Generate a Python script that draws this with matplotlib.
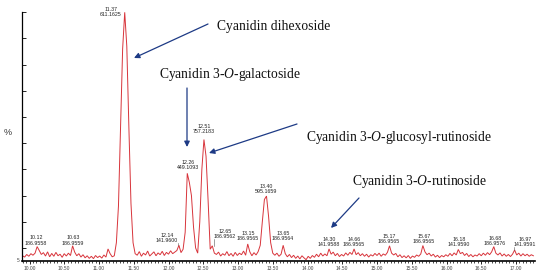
import numpy as np
import matplotlib
matplotlib.use("Agg")
import matplotlib.pyplot as plt
from matplotlib.ticker import MultipleLocator

plt.rcParams["mathtext.fontset"] = "custom"
plt.rcParams["mathtext.rm"] = "Liberation Serif"
plt.rcParams["mathtext.it"] = "Liberation Serif:italic"

# ---------------- data ----------------
t_start = 9.90          # min, first scan
t_step = 0.03           # min between scans
intensity = [  # relative intensity (%), 10 scans per row (0.30 min)
    7.0, 6.5, 7.5, 6.8, 7.8, 7.2, 8.0, 10.5, 9.0, 7.5,      # 9.90
    8.2, 6.9, 8.5, 6.6, 7.9, 6.8, 8.3, 7.0, 7.6, 6.4,       # 10.20
    7.8, 6.9, 8.0, 7.1, 10.8, 8.4, 7.0, 7.8, 6.5, 7.4,      # 10.50
    6.2, 7.0, 6.0, 6.8, 5.9, 7.1, 6.3, 6.9, 6.1, 7.3,       # 10.80
    6.5, 9.6, 7.8, 6.6, 7.0, 12.0, 26.0, 56.0, 86.0, 100.0, # 11.10
    87.0, 56.0, 27.0, 12.0, 7.8, 7.2, 8.6, 6.8, 8.0, 7.3,   # 11.40
    8.8, 6.9, 7.7, 8.5, 7.0, 8.1, 7.4, 8.7, 7.1, 8.3,       # 11.70
    7.6, 8.9, 7.8, 8.4, 9.0, 11.0, 8.2, 9.5, 16.0, 38.5,    # 12.00
    35.0, 30.0, 18.0, 10.0, 8.0, 20.0, 40.0, 51.4, 45.0, 28.0,  # 12.30
    9.5, 10.8, 8.0, 7.5, 8.4, 6.9, 7.8, 7.2, 8.6, 7.0,      # 12.60
    7.9, 6.8, 8.3, 7.1, 8.0, 7.4, 8.8, 7.2, 11.5, 8.5,      # 12.90
    7.0, 8.2, 7.3, 8.6, 11.0, 20.0, 28.5, 29.8, 22.0, 12.0, # 13.20
    8.0, 7.2, 8.0, 6.8, 7.6, 11.0, 7.8, 6.6, 7.5, 6.3,      # 13.50
    7.2, 6.0, 6.9, 5.8, 7.0, 6.2, 5.5, 6.8, 6.0, 7.1,       # 13.80
    6.4, 7.6, 6.6, 8.0, 6.9, 7.7, 7.0, 9.6, 7.6, 8.4,       # 14.10
    7.0, 7.9, 6.7, 7.5, 6.9, 8.1, 7.2, 8.3, 7.5, 9.6,       # 14.40
    7.4, 8.2, 7.0, 7.8, 6.8, 7.6, 6.5, 7.4, 6.9, 7.9,       # 14.70
    7.1, 8.0, 6.8, 7.7, 7.2, 8.3, 10.8, 8.0, 7.3, 7.9,      # 15.00
    6.6, 7.4, 6.3, 7.0, 6.2, 7.1, 6.0, 6.9, 6.4, 7.3,       # 15.30
    6.8, 7.7, 10.9, 8.5, 7.4, 8.0, 6.9, 7.6, 6.5, 7.2,      # 15.60
    6.3, 7.1, 6.6, 7.4, 6.8, 7.9, 7.0, 8.1, 7.3, 9.4,       # 15.90
    7.8, 8.3, 7.1, 7.9, 6.7, 7.5, 6.6, 7.3, 6.9, 7.8,       # 16.20
    7.0, 8.0, 7.2, 8.2, 7.4, 8.5, 10.5, 8.0, 7.3, 8.1,      # 16.50
    6.9, 7.7, 6.8, 7.5, 6.7, 7.6, 9.2, 7.3, 8.0, 6.9,       # 16.80
    7.8, 7.0, 7.6, 6.8, 7.4, 7.0,                           # 17.10
]

peak_times = ["10.12", "10.63", "11.37", "12.14", "12.26", "12.51", "12.65",
              "13.15", "13.40", "13.65", "14.30", "14.66", "15.17", "15.67",
              "16.18", "16.68", "16.97"]
peak_mz = ["186.9558", "186.9559", "611.1625", "141.9600", "449.1093", "757.2183",
           "186.9562", "186.9565", "595.1659", "186.9564", "141.9588", "186.9565",
           "186.9565", "186.9565", "141.9590", "186.9576", "141.9591"]
peak_height = [10.5, 10.8, 100.0, 11.0, 38.5, 51.4, 10.8, 11.5, 29.8, 11.0,
               9.6, 9.6, 10.8, 10.9, 9.4, 10.5, 9.2]

compounds = ["Cyanidin dihexoside", "Cyanidin 3-$\\mathit{O}$-galactoside",
             "Cyanidin 3-$\\mathit{O}$-glucosyl-rutinoside", "Cyanidin 3-$\\mathit{O}$-rutinoside"]

x_ticks = [10.0, 10.5, 11.0, 11.5, 12.0, 12.5, 13.0, 13.5, 14.0, 14.5, 15.0,
           15.5, 16.0, 16.5, 17.0]
x_ticklabels = ["%.2f" % v for v in x_ticks]

# ---------------- layout helpers ----------------
W, H = 550, 276
def tx(px):  # pixel x -> time
    return 10 + (px - 29.5) / 69.5
def vy(py):  # pixel y -> intensity
    return 100 - (py - 12.3) / 2.618

# label placement (pixel centres / bottoms)
lab_px = [36, 73, 111, 167, 188, 204, 225, 248, 266, 283, 329, 354, 389, 424, 459, 495, 525]
lab_py = [246, 246, 17.5, 243.5, 170.5, 134.5, 239.5, 241.5, 194.5, 241.5,
          247.5, 247.5, 244.5, 244.5, 247.5, 246.5, 247.5]
leaders = {"12.14", "12.65", "16.97"}

# compound annotation: text left/baseline, arrow start, arrow tip (pixels)
ann_text = [(217, 30), (159, 78), (306, 141), (352, 185)]
ann_from = [(208, 24), (187, 88), (297, 124), (359, 198)]
ann_to = [(134, 58), (187, 147), (209, 153), (331, 228)]

# ---------------- plotting ----------------
fig = plt.figure(figsize=(W / 100, H / 100), dpi=100)
ax = fig.add_axes([22 / W, (H - 261) / H, (535 - 22) / W, (261 - 12.3) / H])

t = t_start + t_step * np.arange(len(intensity))
ax.plot(t, intensity, color="#d8343b", lw=0.7, solid_joinstyle="miter")

ax.set_xlim(tx(22), tx(535))
ax.set_ylim(5, 100)

for s in ("top", "right"):
    ax.spines[s].set_visible(False)
ax.spines["bottom"].set_linewidth(1.2)
ax.spines["left"].set_linewidth(0.9)

ax.set_xticks(x_ticks)
ax.set_xticklabels(x_ticklabels, fontsize=3.5, color="#444444", family="Liberation Sans")
ax.xaxis.set_minor_locator(MultipleLocator(0.05))
ax.tick_params(axis="x", which="major", direction="out", length=2.5, width=0.6, pad=1.2)
ax.tick_params(axis="x", which="minor", direction="out", length=1.3, width=0.5)

ax.set_yticks(np.arange(10, 101, 10))
ax.set_yticklabels([])
ax.tick_params(axis="y", which="major", direction="in", length=3, width=0.6)
ax.text(-0.004, 5, "5", transform=ax.get_yaxis_transform(), ha="right", va="center",
        fontsize=3.5, color="#444444", family="Liberation Sans")
ax.text(-0.027, vy(133), "%", transform=ax.get_yaxis_transform(), ha="center", va="center",
        fontsize=6.5, color="#333333", family="Liberation Sans")

# peak labels
for pt, mz, ph, lx, ly in zip(peak_times, peak_mz, peak_height, lab_px, lab_py):
    ax.text(tx(lx), vy(ly), pt + "\n" + mz, ha="center", va="bottom", fontsize=3.8,
            linespacing=1.15, color="#222222", family="Liberation Sans", clip_on=False)
    if pt in leaders:
        ax.plot([float(pt), float(pt)], [vy(ly) + 0.3, ph], color="#555555", lw=0.4)

# compound annotations
navy = "#1d3a85"
for name, (xt, yt), (xa, ya), (xb, yb) in zip(compounds, ann_text, ann_from, ann_to):
    ax.text(tx(xt), vy(yt), name, ha="left", va="baseline", fontsize=9.8,
            family="Liberation Serif", color="#111111")
    ax.annotate("", xy=(tx(xb), vy(yb)), xytext=(tx(xa), vy(ya)),
                arrowprops=dict(arrowstyle="-|>", color=navy, lw=0.9,
                                mutation_scale=8, shrinkA=0, shrinkB=0))

fig.savefig("out.png", dpi=100)
